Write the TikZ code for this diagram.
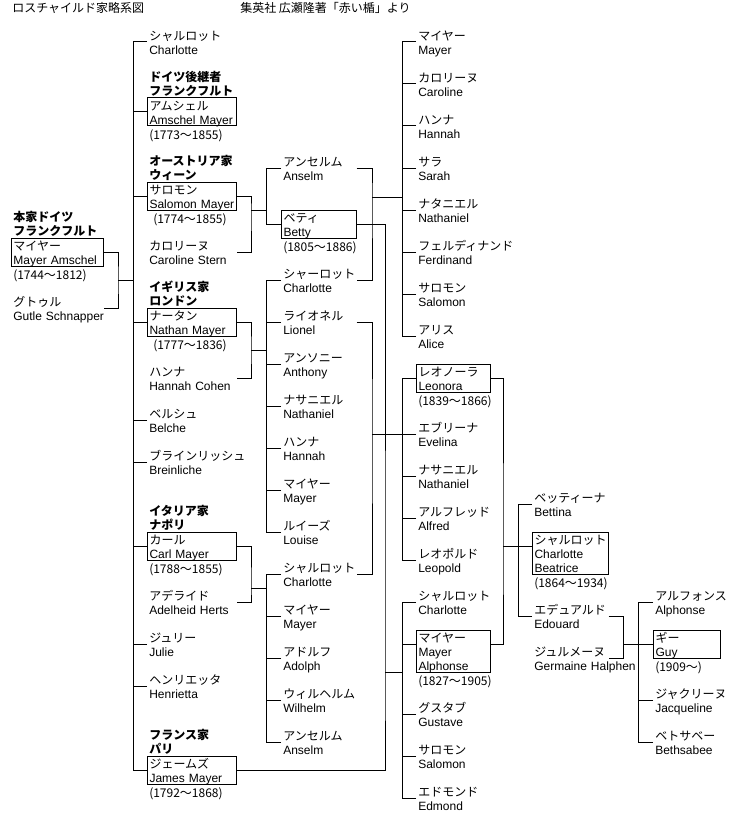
\documentclass[tikz,border=0pt]{standalone}
\usepackage{fontspec}
\setmainfont{Liberation Sans}
\newfontfamily\jp{Noto Sans CJK JP}
\newcommand\jpf{\fontsize{9}{10.5}\selectfont\lineskiplimit=-20pt}
\newcommand\lst{\rule[-1.25pt]{0pt}{10.5pt}}
\newcommand\pn[2]{\lst\smash{\jp #1}\\\lst\smash{\mbox{#2}}}
\newcommand\pnn[3]{\lst\smash{\jp #1}\\\lst\smash{\mbox{#2}}\\\lst\smash{\mbox{#3}}}
\newcommand\hd[2]{\lst\smash{#1}\\\lst\smash{#2}}

\begin{document}
\begin{tikzpicture}[x=0.75pt,y=-0.75pt,
    person/.style ={anchor=west, inner xsep=1.5pt, inner ysep=0pt,
      align=left, font=\jpf},
    person_box/.style ={person, draw=black, line width=0.75pt},
    head_txt/.style ={anchor=south west, inner xsep=1.5pt, inner ysep=0pt,
      align=left, font=\jpf\jp\bfseries},
    date_txt/.style ={anchor=north west, inner xsep=1.5pt, inner ysep=0pt,
      font=\jpf\jp},
    title_txt/.style ={anchor=west, inner sep=0pt, font=\jpf\jp},
    col0/.style ={text width=66pt},
    col1/.style ={text width=63.75pt},
    col2/.style ={text width=53.25pt},
    col3/.style ={text width=52.5pt},
    col4/.style ={text width=54pt},
    col5/.style ={text width=47.25pt},
    line/.style ={draw, line width=0.75pt}]
    \useasboundingbox (0,0) rectangle (731,813);
    % titles
    \node [title_txt] (ttlTree) at (12,8) {ロスチャイルド家略系図};
    \node [title_txt] (ttlSrc) at (240,8) {集英社 広瀬隆著「赤い楯」より};
    % generation 0
    \node [person_box, col0] (mayerAms) at (11,252) {\pn{マイヤー}{Mayer Amschel}};
    \node [head_txt] (hdMA) at (mayerAms.north west) {\hd{本家ドイツ}{フランクフルト}};
    \node [date_txt] (dtMA) at (mayerAms.south west) {\lst(1744〜1812)};
    \node [person, col0] (gutle) at (11,308) {\pn{グトゥル}{Gutle Schnapper}};
    % generation 1
    \node [person, col1] (chrlt1) at (147,42) {\pn{シャルロット}{Charlotte}};
    \node [person_box, col1] (amschel) at (147,112) {\pn{アムシェル}{Amschel Mayer}};
    \node [head_txt] (hdAms) at (amschel.north west) {\hd{ドイツ後継者}{フランクフルト}};
    \node [date_txt] (dtAms) at (amschel.south west) {\lst(1773〜1855)};
    \node [person_box, col1] (salomon) at (147,196) {\pn{サロモン}{Salomon Mayer}};
    \node [head_txt] (hdSal) at (salomon.north west) {\hd{オーストリア家}{ウィーン}};
    \node [date_txt] (dtSal) at (salomon.south west) {\lst\hspace{3pt}(1774〜1855)};
    \node [person, col1] (carolS) at (147,252) {\pn{カロリーヌ}{Caroline Stern}};
    \node [person_box, col1] (nathan) at (147,322) {\pn{ナータン}{Nathan Mayer}};
    \node [head_txt] (hdNat) at (nathan.north west) {\hd{イギリス家}{ロンドン}};
    \node [date_txt] (dtNat) at (nathan.south west) {\lst\hspace{3pt}(1777〜1836)};
    \node [person, col1] (hannahC) at (147,378) {\pn{ハンナ}{Hannah Cohen}};
    \node [person, col1] (belche) at (147,420) {\pn{ベルシュ}{Belche}};
    \node [person, col1] (breinl) at (147,462) {\pn{ブラインリッシュ}{Breinliche}};
    \node [person_box, col1] (carl) at (147,546) {\pn{カール}{Carl Mayer}};
    \node [head_txt] (hdCarl) at (carl.north west) {\hd{イタリア家}{ナポリ}};
    \node [date_txt] (dtCarl) at (carl.south west) {\lst(1788〜1855)};
    \node [person, col1] (adelheid) at (147,602) {\pn{アデライド}{Adelheid Herts}};
    \node [person, col1] (julie) at (147,644) {\pn{ジュリー}{Julie}};
    \node [person, col1] (henriet) at (147,686) {\pn{ヘンリエッタ}{Henrietta}};
    \node [person_box, col1] (james) at (147,770) {\pn{ジェームズ}{James Mayer}};
    \node [head_txt] (hdJam) at (james.north west) {\hd{フランス家}{パリ}};
    \node [date_txt] (dtJam) at (james.south west) {\lst(1792〜1868)};
    % generation 2
    \node [person, col2] (anselm) at (281,168) {\pn{アンセルム}{Anselm}};
    \node [person_box, col2] (betty) at (281,224) {\pn{ベティ}{Betty}};
    \node [date_txt] (dtBet) at (betty.south west) {\lst(1805〜1886)};
    \node [person, col2] (chrltN) at (281,280) {\pn{シャーロット}{Charlotte}};
    \node [person, col2] (lionel) at (281,322) {\pn{ライオネル}{Lionel}};
    \node [person, col2] (anthony) at (281,364) {\pn{アンソニー}{Anthony}};
    \node [person, col2] (nathanN) at (281,406) {\pn{ナサニエル}{Nathaniel}};
    \node [person, col2] (hannahN) at (281,448) {\pn{ハンナ}{Hannah}};
    \node [person, col2] (mayerN) at (281,490) {\pn{マイヤー}{Mayer}};
    \node [person, col2] (louise) at (281,532) {\pn{ルイーズ}{Louise}};
    \node [person, col2] (chrltC) at (281,574) {\pn{シャルロット}{Charlotte}};
    \node [person, col2] (mayerC) at (281,616) {\pn{マイヤー}{Mayer}};
    \node [person, col2] (adolph) at (281,658) {\pn{アドルフ}{Adolph}};
    \node [person, col2] (wilhelm) at (281,700) {\pn{ウィルヘルム}{Wilhelm}};
    \node [person, col2] (anselmC) at (281,742) {\pn{アンセルム}{Anselm}};
    % generation 3
    \node [person, col3] (mayerA) at (416,42) {\pn{マイヤー}{Mayer}};
    \node [person, col3] (carolA) at (416,84) {\pn{カロリーヌ}{Caroline}};
    \node [person, col3] (hannahA) at (416,126) {\pn{ハンナ}{Hannah}};
    \node [person, col3] (sarah) at (416,168) {\pn{サラ}{Sarah}};
    \node [person, col3] (nathanA) at (416,210) {\pn{ナタニエル}{Nathaniel}};
    \node [person, col3] (ferdi) at (416,252) {\pn{フェルディナンド}{Ferdinand}};
    \node [person, col3] (salomonA) at (416,294) {\pn{サロモン}{Salomon}};
    \node [person, col3] (alice) at (416,336) {\pn{アリス}{Alice}};
    \node [person_box, col3] (leonora) at (416,378) {\pn{レオノーラ}{Leonora}};
    \node [date_txt] (dtLeo) at (leonora.south west) {\lst(1839〜1866)};
    \node [person, col3] (evelina) at (416,434) {\pn{エブリーナ}{Evelina}};
    \node [person, col3] (nathanL) at (416,476) {\pn{ナサニエル}{Nathaniel}};
    \node [person, col3] (alfred) at (416,518) {\pn{アルフレッド}{Alfred}};
    \node [person, col3] (leopold) at (416,560) {\pn{レオポルド}{Leopold}};
    \node [person, col3] (chrltJ) at (416,602) {\pn{シャルロット}{Charlotte}};
    \node [person_box, col3] (alphonse) at (416,651) {\pnn{マイヤー}{Mayer}{Alphonse}};
    \node [date_txt] (dtAlp) at (alphonse.south west) {\lst(1827〜1905)};
    \node [person, col3] (gustave) at (416,714) {\pn{グスタブ}{Gustave}};
    \node [person, col3] (salomonJ) at (416,756) {\pn{サロモン}{Salomon}};
    \node [person, col3] (edmond) at (416,798) {\pn{エドモンド}{Edmond}};
    % generation 4
    \node [person, col4] (bettina) at (532,504) {\pn{ベッティーナ}{Bettina}};
    \node [person_box, col4] (chrBea) at (532,553) {\pnn{シャルロット}{Charlotte}{Beatrice}};
    \node [date_txt] (dtCB) at (chrBea.south west) {\lst(1864〜1934)};
    \node [person, col4] (edouard) at (532,616) {\pn{エデュアルド}{Edouard}};
    \node [person, col4] (germaine) at (532,658) {\pn{ジュルメーヌ}{Germaine Halphen}};
    % generation 5
    \node [person, col5] (alphE) at (653,602) {\pn{アルフォンス}{Alphonse}};
    \node [person_box, col5] (guy) at (653,644) {\pn{ギー}{Guy}};
    \node [date_txt] (dtGuy) at (guy.south west) {\lst(1909〜)};
    \node [person, col5] (jacq) at (653,700) {\pn{ジャクリーヌ}{Jacqueline}};
    \node [person, col5] (bethsa) at (653,742) {\pn{ベトサベー}{Bethsabee}};
    % buses and marriage joints
    \coordinate (bus1) at (133,0);
    \coordinate (bus2) at (266,0);
    \coordinate (bus3) at (402,0);
    \coordinate (bus4) at (518,0);
    \coordinate (bus5) at (638,0);
    \coordinate (cplMG) at (118,280);
    \coordinate (cplSC) at (251,210);
    \coordinate (cplNH) at (251,350);
    \coordinate (cplCA) at (251,588);
    \coordinate (cplAC) at (372,197);
    \coordinate (cplLC) at (372,434);
    \coordinate (cplBJ) at (385,672);
    \coordinate (cplLA) at (503,546);
    \coordinate (cplEG) at (623,644);
    % connecting nodes with paths
    \begin{scope}[every path/.style=line]
      % Mayer Amschel and Gutle
      \path (mayerAms.east) -| (cplMG) |- (gutle.east);
      \path (cplMG) -- (cplMG -| bus1);
      \path (chrlt1.west -| bus1) -- (james.west -| bus1);
      \foreach \n in {chrlt1,amschel,salomon,nathan,belche,breinl,carl,julie,henriet,james}
        \path (\n.west) -- (\n.west -| bus1);
      % Salomon and Caroline
      \path (salomon.east) -| (cplSC) |- (carolS.east);
      \path (cplSC) -- (cplSC -| bus2);
      \path (anselm.west -| bus2) -- (betty.west -| bus2);
      % Nathan and Hannah
      \path (nathan.east) -| (cplNH) |- (hannahC.east);
      \path (cplNH) -- (cplNH -| bus2);
      \path (chrltN.west -| bus2) -- (louise.west -| bus2);
      % Carl and Adelheid
      \path (carl.east) -| (cplCA) |- (adelheid.east);
      \path (cplCA) -- (cplCA -| bus2);
      \path (chrltC.west -| bus2) -- (anselmC.west -| bus2);
      \foreach \n in {anselm,betty,chrltN,lionel,anthony,nathanN,hannahN,mayerN,louise,chrltC,mayerC,adolph,wilhelm,anselmC}
        \path (\n.west) -- (\n.west -| bus2);
      % Anselm and Charlotte
      \path (anselm.east) -| (cplAC) |- (chrltN.east);
      \path (cplAC) -- (cplAC -| bus3);
      \path (mayerA.west -| bus3) -- (alice.west -| bus3);
      % Lionel and Charlotte
      \path (lionel.east) -| (cplLC) |- (chrltC.east);
      \path (cplLC) -- (cplLC -| bus3);
      \path (leonora.west -| bus3) -- (leopold.west -| bus3);
      % Betty and James
      \path (betty.east) -| (cplBJ) |- (james.east);
      \path (cplBJ) -- (cplBJ -| bus3);
      \path (chrltJ.west -| bus3) -- (edmond.west -| bus3);
      \foreach \n in {mayerA,carolA,hannahA,sarah,nathanA,ferdi,salomonA,alice,leonora,evelina,nathanL,alfred,leopold,chrltJ,gustave,salomonJ,edmond}
        \path (\n.west) -- (\n.west -| bus3);
      \path ([yshift=5.25pt]alphonse.west) -- ([yshift=5.25pt]alphonse.west -| bus3);
      % Leonora and Alphonse
      \path (leonora.east) -| (cplLA) |- ([yshift=5.25pt]alphonse.east);
      \path (cplLA) -- (cplLA -| bus4);
      \path (bettina.west -| bus4) -- (edouard.west -| bus4);
      \path (bettina.west) -- (bettina.west -| bus4);
      \path ([yshift=5.25pt]chrBea.west) -- ([yshift=5.25pt]chrBea.west -| bus4);
      \path (edouard.west) -- (edouard.west -| bus4);
      % Edouard and Germaine
      \path (edouard.east) -| (cplEG) |- (germaine.east);
      \path (cplEG) -- (cplEG -| bus5);
      \path (alphE.west -| bus5) -- (bethsa.west -| bus5);
      \foreach \n in {alphE,guy,jacq,bethsa}
        \path (\n.west) -- (\n.west -| bus5);
    \end{scope}
  \end{tikzpicture}
\end{document}
